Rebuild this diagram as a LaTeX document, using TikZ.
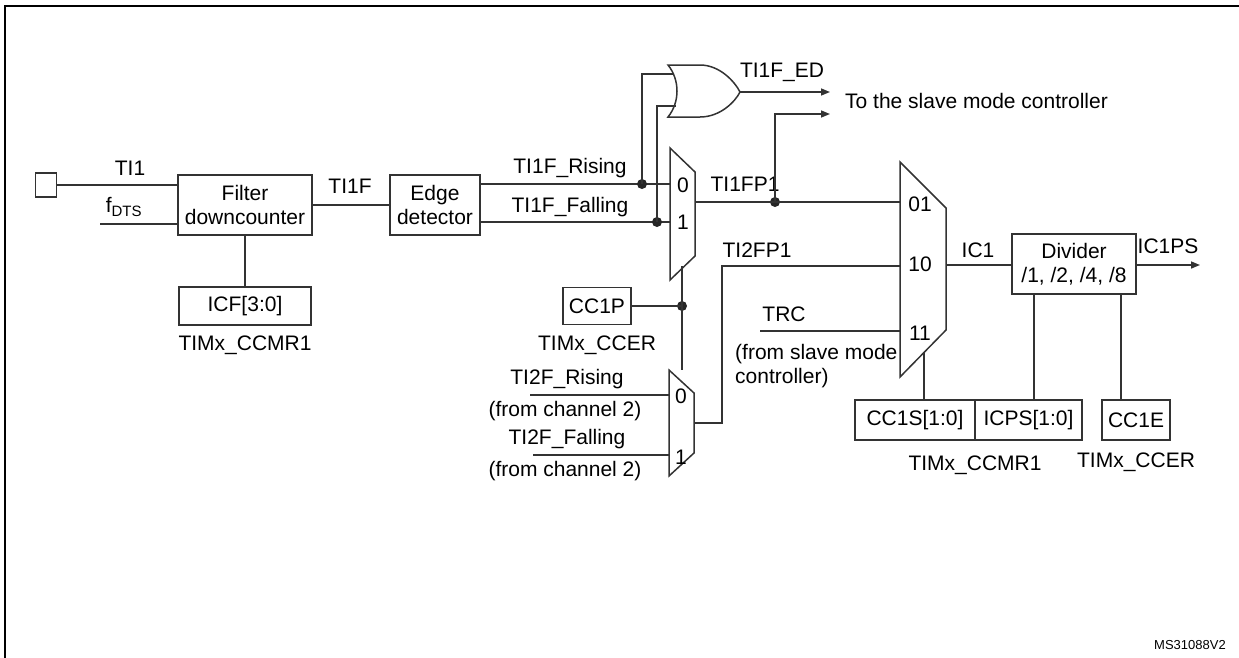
\documentclass[tikz,border=0pt]{standalone}
\usepackage{fontspec}
\setmainfont{Liberation Sans}
\usetikzlibrary{arrows.meta}
\begin{document}
\begin{tikzpicture}[x=1pt,y=-1pt,
  ln/.style={draw=black!80,line width=1.5pt},
  box/.style={draw=black!80,line width=1.5pt,inner sep=0pt,align=center},
  lb/.style={inner sep=0pt,align=center},
  dot/.style={circle,fill=black!85,inner sep=0pt,minimum size=10pt},
  arr/.style={ln,-{Triangle[length=9pt,width=7pt]}},
  font=\fontsize{21}{24}\selectfont]
\useasboundingbox (0,0) rectangle (1239,657);
\draw[line width=2.5pt] (5,660) -- (5,6) -- (1239,6);
% input
\node[box,minimum width=21pt,minimum height=24pt] (pin) at (46,185) {};
\node[box,minimum width=134pt,minimum height=60pt] (filt) at (245,205) {Filter\\downcounter};
\node[box,minimum width=132pt,minimum height=38pt] (icf) at (245,306) {ICF[3:0]};
\node[lb] (lccmr) at (245,345) {TIMx\_CCMR1};
\node[box,minimum width=90pt,minimum height=60pt] (edge) at (435,205) {Edge\\detector};
\coordinate (a1) at (178,185);
\draw[ln] (pin.east) -- (a1);
\node[lb] at (130,168) {TI1};
\coordinate (f0) at (100,224); \coordinate (f1) at (178,224);
\draw[ln] (f0) -- (f1);
\node[lb] at (124,207) {f\textsubscript{\fontsize{15}{15}\selectfont DTS}};
\draw[ln] (filt.south) -- (icf.north);
\draw[ln] (filt.east|-edge.west) -- (edge.west);
\node[lb] at (350,186) {TI1F};
% mux1
\draw[ln] (670,148) -- (695,172) -- (695,256) -- (670,280) -- cycle;
\node[lb] at (683,185) {0};
\node[lb] at (683,222) {1};
\coordinate (m1r) at (670,184); \coordinate (m1f) at (670,222);
\coordinate (er) at (480,184); \coordinate (ef) at (480,222);
\draw[ln] (er) -- (m1r);
\draw[ln] (ef) -- (m1f);
\node[lb] at (570,168) {TI1F\_Rising};
\node[lb] at (570,207) {TI1F\_Falling};
\node[dot] (d1) at (642,184) {};
\node[dot] (d2) at (657,222) {};
% OR gate
\draw[ln] (668,65) .. controls (680,80) and (680,102) .. (668,117)
  -- (700,117) .. controls (720,117) and (735,102) .. (740,92)
  .. controls (735,82) and (720,65) .. (700,65) -- cycle;
\coordinate (g1) at (673,74); \coordinate (g2) at (676,106); \coordinate (go) at (740,92);
\draw[ln] (d1.center) -- (d1.center|-g1) -- (g1);
\draw[ln] (d2.center) -- (d2.center|-g2) -- (g2);
\coordinate (edo) at (830,92);
\draw[arr] (go) -- (edo);
\node[lb] at (782,72) {TI1F\_ED};
\node[lb,anchor=west] (slave) at (845,101) {To the slave mode controller};
% TI1FP1
\coordinate (m1o) at (695,202);
\node[dot] (d3) at (775,202) {};
\coordinate (m2a) at (900,202);
\draw[ln] (m1o) -- (m2a);
\node[lb] at (745,184) {TI1FP1};
\coordinate (so) at (830,114);
\draw[arr] (d3.center) -- (d3.center|-so) -- (so);
% mux2
\draw[ln] (900,162) -- (946,208) -- (946,330) -- (900,377) -- cycle;
\node[lb] at (920,204) {01};
\node[lb] at (920,264) {10};
\node[lb] at (920,333) {11};
% CC1P & mux3
\node[box,minimum width=68pt,minimum height=37pt] (cc1p) at (597,306) {CC1P};
\node[lb] at (597,345) {TIMx\_CCER};
\node[dot] (d4) at (682,306) {};
\draw[ln] (682,266) -- (682,370);
\draw[ln] (cc1p.east) -- (d4.center);
\draw[ln] (669,370) -- (694,393) -- (694,453) -- (669,476) -- cycle;
\node[lb] at (681,396) {0};
\node[lb] at (681,457) {1};
\coordinate (r0) at (530,395); \coordinate (r1) at (669,395);
\coordinate (s0) at (533,455); \coordinate (s1) at (669,455);
\draw[ln] (r0) -- (r1); \draw[ln] (s0) -- (s1);
\node[lb] at (567,379) {TI2F\_Rising};
\node[lb] at (565,411) {(from channel 2)};
\node[lb] at (567,439) {TI2F\_Falling};
\node[lb] at (565,471) {(from channel 2)};
\coordinate (m3o) at (694,423); \coordinate (m2b) at (900,266);
\draw[ln] (m3o) -- (722,423) -- (722,266) -- (m2b);
\node[lb] at (757,250) {TI2FP1};
\coordinate (t0) at (760,331); \coordinate (m2c) at (900,331);
\draw[ln] (t0) -- (m2c);
\node[lb] at (784,314) {TRC};
\node[lb,align=left,anchor=west] at (735,366) {(from slave mode\\controller)};
% divider
\node[box,minimum width=124pt,minimum height=60pt] (div) at (1074,264) {Divider\\/1, /2, /4, /8};
\coordinate (m2o) at (946,265);
\draw[ln] (m2o) -- (div.west|-m2o);
\node[lb] at (978,250) {IC1};
\coordinate (ps) at (1200,265);
\draw[arr] (div.east|-ps) -- (ps);
\node[lb] at (1168,246) {IC1PS};
% bottom boxes
\node[box,minimum width=120pt,minimum height=40pt] (cc1s) at (915,420) {CC1S[1:0]};
\node[box,minimum width=107pt,minimum height=40pt] (icps) at (1028.5,420) {ICPS[1:0]};
\node[box,minimum width=68pt,minimum height=40pt] (cc1e) at (1136,420) {CC1E};
\draw[ln] (924,353) -- (924,400);
\draw[ln] (1034,294) -- (1034,400);
\draw[ln] (1121,294) -- (1121,400);
\node[lb] at (975,465) {TIMx\_CCMR1};
\node[lb] at (1136,462) {TIMx\_CCER};
\node[lb,font=\fontsize{13}{14}\selectfont] at (1190,645) {MS31088V2};
\end{tikzpicture}
\end{document}
